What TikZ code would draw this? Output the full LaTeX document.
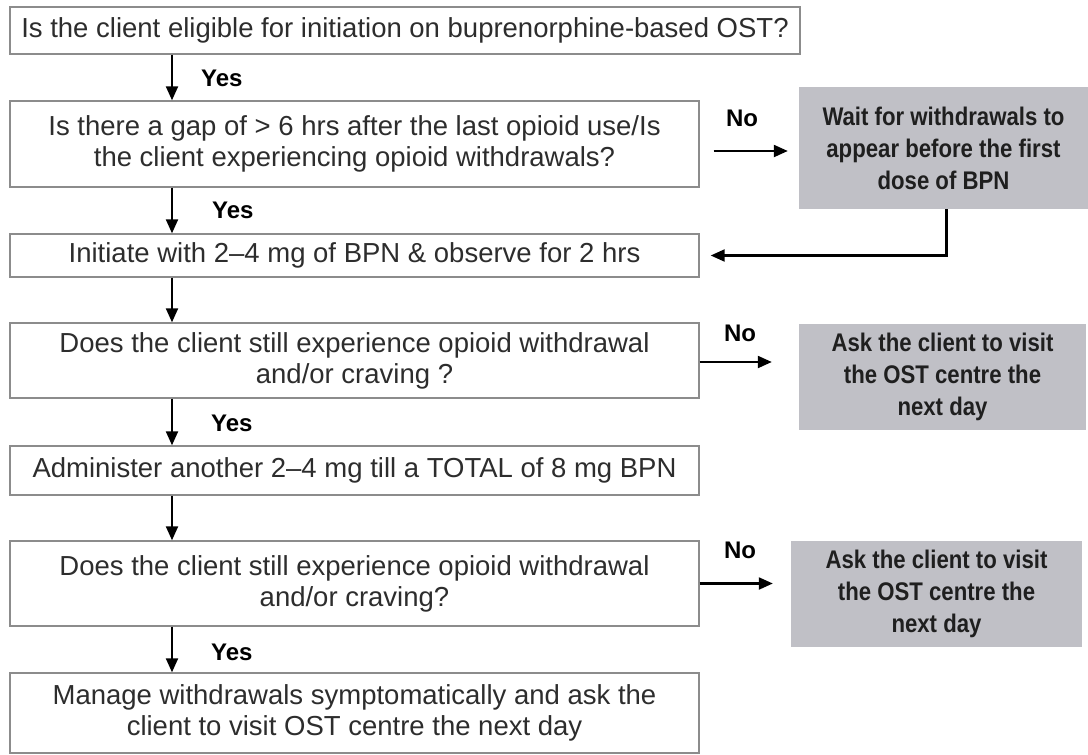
\documentclass[tikz,border=0pt]{standalone}
\usepackage{fontspec}
\setmainfont{Liberation Sans}
\newfontfamily\notefont[FakeStretch=0.87]{Liberation Sans}
\usetikzlibrary{arrows.meta,positioning,calc}
\definecolor{notefill}{RGB}{192,192,198}
\definecolor{edgegrey}{RGB}{140,140,140}
\definecolor{inkgrey}{RGB}{45,45,45}

\begin{document}
\begin{tikzpicture}[x=1pt, y=-1pt, >={Triangle[length=14pt,width=12pt]},
    flowbox/.style={draw=edgegrey, line width=1.4pt, fill=white, text=inkgrey, align=center, inner sep=0pt, minimum width=689pt, font=\fontsize{27.5}{31}\selectfont},
    notebox/.style={fill=notefill, text=black!88, align=center, inner sep=0pt, font=\notefont\fontsize{25.5}{32}\selectfont\bfseries},
    answer/.style={inner sep=0pt, font=\fontsize{24}{28}\selectfont\bfseries},
    link/.style={line width=2.2pt, ->}]
    \useasboundingbox (0,0) rectangle (1088,755);

    \node[flowbox, minimum width=790pt, minimum height=47pt] (eligible) at (405,30.5) {Is the client eligible for initiation on buprenorphine-based OST?};
    \node[flowbox, minimum height=86pt] (gap) at (354.5,144) {Is there a gap of > 6 hrs after the last opioid use/Is\\the client experiencing opioid withdrawals?};
    \node[flowbox, minimum height=43pt] (init) at (354.5,255.5) {Initiate with 2--4 mg of BPN \& observe for 2 hrs};
    \node[flowbox, minimum height=75pt] (still) at (354.5,360.5) {Does the client still experience opioid withdrawal\\and/or craving ?};
    \node[flowbox, minimum height=49pt] (again) at (354.5,470.5) {Administer another 2--4 mg till a TOTAL of 8 mg BPN};
    \node[flowbox, minimum height=85pt] (recheck) at (354.5,583.5) {Does the client still experience opioid withdrawal\\and/or craving?};
    \node[flowbox, minimum height=80pt] (manage) at (354.5,713) {Manage withdrawals symptomatically and ask the\\client to visit OST centre the next day};

    \node[notebox, minimum width=289pt, minimum height=122pt] (wait) at (943.5,148) {Wait for withdrawals to\\appear before the first\\dose of BPN};
    \node[notebox, minimum width=287pt, minimum height=106pt] (visit) at (942.5,377) {Ask the client to visit\\the OST centre the\\next day};
    \node[notebox, minimum width=291pt, minimum height=106pt] (revisit) at (936.5,594) {Ask the client to visit\\the OST centre the\\next day};

    \node[answer, anchor=west] (yes1) at (201,78) {Yes};
    \node[answer, anchor=west] (yes2) at (212,210) {Yes};
    \node[answer, anchor=west] (yes3) at (211,423) {Yes};
    \node[answer, anchor=west] (yes4) at (211,652) {Yes};
    \node[answer] (no1) at (742,118) {No};
    \node[answer] (no2) at (740,333) {No};
    \node[answer] (no3) at (740,550) {No};

    \coordinate (spine) at (172,0);
    \draw[link] (spine |- eligible.south) -- (spine |- gap.north);
    \draw[link] (spine |- gap.south) -- (spine |- init.north);
    \draw[link] (spine |- init.south) -- (spine |- still.north);
    \draw[link] (spine |- still.south) -- (spine |- again.north);
    \draw[link] (spine |- again.south) -- (spine |- recheck.north);
    \draw[link] (spine |- recheck.south) -- (spine |- manage.north);

    \draw[link, shorten <=14pt, shorten >=11pt] ($(gap.east)+(0,7)$) -- ($(gap.east -| wait.west)+(0,7)$);
    \draw[link, shorten >=27pt] ($(still.east)+(0,1.5)$) -- ($(still.east -| visit.west)+(0,1.5)$);
    \draw[link, shorten >=18pt] (recheck.east) -- (recheck.east -| revisit.west);
    \draw[link, shorten >=11pt] ([xshift=3pt]wait.south) |- (init.east);
\end{tikzpicture}
\end{document}
